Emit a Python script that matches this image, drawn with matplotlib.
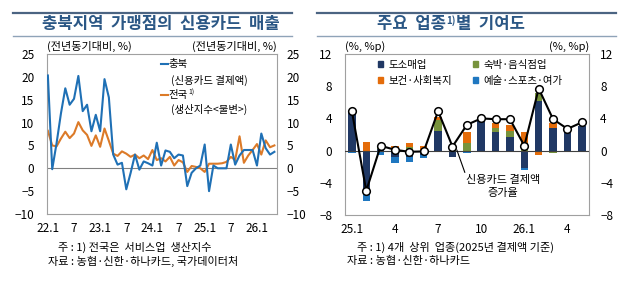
import numpy as np
import matplotlib.pyplot as plt
from matplotlib.lines import Line2D
from matplotlib.patches import Patch

plt.rcParams['font.family'] = ['Noto Sans CJK KR', 'DejaVu Sans']

# ---------------- data ----------------
# left panel: monthly, 22.1 ~ 26.5 (y/y, %)
chungbuk = [20.3, -0.2, 5.5, 12.0, 17.5, 13.9, 15.2, 20.2, 12.5, 13.9, 8.1, 11.7, 8.1,
            19.5, 15.5, 3.0, 0.8, 1.2, -4.6, -1.0, 3.0, -0.3, 1.5, 1.1, 0.6,
            5.6, 0.6, 3.9, 3.6, 2.2, 3.0, 2.8, -3.9, -1.0, 0.0, 0.6, 5.2,
            -5.0, 0.6, 0.0, 0.0, 0.0, 5.2, 0.8, 2.8, 4.0, 4.0, 4.0, 0.6,
            7.6, 4.4, 3.0, 3.6]
national = [8.2, 5.0, 4.8, 6.5, 8.0, 6.6, 7.6, 10.1, 8.3, 7.3, 4.9, 7.2, 4.7,
            8.7, 6.0, 3.2, 2.7, 3.7, 3.2, 2.5, 3.0, 2.2, 2.8, 2.0, 4.0,
            1.8, 2.2, 1.5, 2.5, 0.6, 1.8, 1.3, -0.8, 0.5, 0.3, 0.0, -0.8,
            1.0, 1.0, 1.0, 1.1, 1.4, 2.5, 1.8, 7.0, 1.2, 2.8, 4.0, 5.3,
            3.0, 6.1, 4.6, 5.0]
left_ticks = [0, 6, 12, 18, 24, 30, 36, 42, 48]
left_ticklabels = ['22.1', '7', '23.1', '7', '24.1', '7', '25.1', '7', '26.1']

# right panel: monthly, 25.1 ~ 26.5 (%, %p)
retail = [4.8, -5.4, 0.2, -0.8, -0.8, -0.5, 2.4, -0.8, 0.0, 3.7, 2.3, 1.7, -2.1, 6.2, 2.8, 2.6, 3.0]
food = [0.0, 0.0, 0.2, 0.1, 0.4, 0.05, 1.4, 0.1, 0.9, 0.1, 0.5, 0.7, 0.9, 0.9, -0.3, 0.0, 0.0]
health = [0.1, 1.1, 0.2, 0.5, 0.6, 0.5, 0.4, 0.6, 1.4, 0.0, 0.6, 0.8, 1.4, -0.6, 0.6, 0.0, 0.0]
arts = [-0.3, -0.8, -0.6, -0.7, -0.6, -0.4, -0.1, 0.0, -0.3, -0.2, 0.0, 0.0, -0.3, 0.0, 0.0, 0.0, 0.0]
card_growth = [4.9, -5.0, 0.6, 0.1, -0.15, -0.1, 4.9, 0.5, 3.2, 4.0, 3.9, 3.9, 0.6, 7.7, 3.9, 2.7, 3.5]
right_ticks = [0, 3, 6, 9, 12, 15]
right_ticklabels = ['25.1', '4', '7', '10', '26.1', '4']

series_names = ['도소매업', '숙박·음식점업', '보건·사회복지', '예술·스포츠·여가']
series_colors = ['#203864', '#77933C', '#E46C0A', '#1F77C0']

# ---------------- figure ----------------
W, H = 628, 292
fig = plt.figure(figsize=(W / 100, H / 100), dpi=100)


def fx(px):
    return px / W


def fy(py):
    return 1 - py / H


title_color = '#2B5785'
for x0, x1 in [(13, 292), (317, 616)]:
    fig.add_artist(Line2D([fx(x0), fx(x1)], [fy(12.5), fy(12.5)], color='#4B6482', lw=1.6))
    fig.add_artist(Line2D([fx(x0), fx(x1)], [fy(35.5), fy(35.5)], color='#8FA3B8', lw=1.0))

fig.text(fx(161), fy(24), '충북지역  가맹점의  신용카드  매출', ha='center', va='center',
         fontsize=12, fontweight='bold', color=title_color)

t1 = fig.text(fx(446), fy(24), '주요  업종', ha='right', va='center',
              fontsize=12, fontweight='bold', color=title_color)
t2 = fig.text(0, 0, '1)', fontsize=7, fontweight='bold', color=title_color)
fig.canvas.draw()
r = fig.canvas.get_renderer()
bb = t1.get_window_extent(r)
t2.set_position((bb.x1 / W + 0.001, (bb.y1 - 9) / H))
bb2 = t2.get_window_extent(r)
fig.text(bb2.x1 / W, fy(24), '별  기여도', ha='left', va='center',
         fontsize=12, fontweight='bold', color=title_color)

frame_color = '#A0A0A0'

# ---------------- left panel ----------------
ax1 = fig.add_axes([fx(47), fy(214), 230 / W, 160 / H])
x = np.arange(len(chungbuk))
ax1.axhline(0, color='#808080', lw=0.8, zorder=1)
ax1.plot(x, national, color='#DC7A28', lw=1.5, zorder=2)
ax1.plot(x, chungbuk, color='#1F70B5', lw=1.5, zorder=3)
ax1.set_xlim(-0.2, 52.6)
ax1.set_ylim(-10, 25)
ax1.set_yticks(range(-10, 26, 5))
ax1.set_xticks(left_ticks)
ax1.set_xticklabels(left_ticklabels)
ax1.tick_params(length=0, labelsize=8.5, pad=9)
ax1.tick_params(axis='x', pad=6)
for s in ax1.spines.values():
    s.set_color(frame_color)
    s.set_linewidth(0.8)
ax1r = ax1.twinx()
ax1r.set_ylim(-10, 25)
ax1r.set_yticks(range(-10, 26, 5))
ax1r.tick_params(length=0, labelsize=8.5, pad=7)
for s in ax1r.spines.values():
    s.set_visible(False)

ax1.text(0, 1.015, '(전년동기대비, %)', transform=ax1.transAxes, ha='left', va='bottom', fontsize=8)
ax1.text(1, 1.015, '(전년동기대비, %)', transform=ax1.transAxes, ha='right', va='bottom', fontsize=8)

# legend drawn by hand (two-line labels)
ax1.add_line(Line2D([0.495, 0.528], [0.94, 0.94], transform=ax1.transAxes, color='#1F70B5', lw=1.5))
ax1.text(0.53, 0.94, '충북', transform=ax1.transAxes, va='center', fontsize=7.5)
ax1.text(0.54, 0.835, '(신용카드 결제액)', transform=ax1.transAxes, va='center', fontsize=7.5)
ax1.add_line(Line2D([0.495, 0.528], [0.745, 0.745], transform=ax1.transAxes, color='#DC7A28', lw=1.5))
lt = ax1.text(0.53, 0.745, '전국', transform=ax1.transAxes, va='center', fontsize=7.5)
ax1.annotate('1)', xy=(1, 0.5), xycoords=lt, xytext=(0.3, -1.0), textcoords='offset points',
             va='bottom', ha='left', fontsize=5)
ax1.text(0.54, 0.655, '(생산지수<불변>)', transform=ax1.transAxes, va='center', fontsize=7.5)

fig.text(fx(58), fy(247), '주 : 1) 전국은  서비스업  생산지수', ha='left', va='center', fontsize=8)
fig.text(fx(48), fy(261), '자료 : 농협·신한·하나카드, 국가데이터처', ha='left', va='center', fontsize=8)

# ---------------- right panel ----------------
ax2 = fig.add_axes([fx(344.7), fy(215), 244.3 / W, 161 / H])
xb = np.arange(len(retail))
pos_base = np.zeros(len(retail))
neg_base = np.zeros(len(retail))
for vals, name, col in zip([retail, food, health, arts], series_names, series_colors):
    v = np.array(vals, dtype=float)
    pos = np.where(v > 0, v, 0)
    neg = np.where(v < 0, v, 0)
    ax2.bar(xb, pos, 0.52, bottom=pos_base, color=col, label=name, zorder=2)
    ax2.bar(xb, neg, 0.52, bottom=neg_base, color=col, zorder=2)
    pos_base += pos
    neg_base += neg
ax2.axhline(0, color='#404040', lw=0.8, zorder=3)
ax2.plot(xb, card_growth, color='black', lw=1.5, marker='o', markersize=5.5,
         markerfacecolor='white', markeredgecolor='black', markeredgewidth=1.1, zorder=4)
ax2.set_xlim(-0.5, 16.5)
ax2.set_ylim(-8, 12)
ax2.set_yticks(range(-8, 13, 4))
ax2.set_xticks(right_ticks)
ax2.set_xticklabels(right_ticklabels)
ax2.tick_params(length=0, labelsize=8.5, pad=9)
ax2.tick_params(axis='x', pad=6)
for s in ax2.spines.values():
    s.set_color(frame_color)
    s.set_linewidth(0.8)
ax2r = ax2.twinx()
ax2r.set_ylim(-8, 12)
ax2r.set_yticks(range(-8, 13, 4))
ax2r.tick_params(length=0, labelsize=8.5, pad=8)
for s in ax2r.spines.values():
    s.set_visible(False)

ax2.text(0, 1.015, '(%, %p)', transform=ax2.transAxes, ha='left', va='bottom', fontsize=8)
ax2.text(1, 1.015, '(%, %p)', transform=ax2.transAxes, ha='right', va='bottom', fontsize=8)

handles = [Patch(color=c) for c in series_colors]
order = [0, 2, 1, 3]
ax2.legend([handles[i] for i in order], [series_names[i] for i in order], ncol=2,
           loc='upper left', bbox_to_anchor=(0.12, 0.99), frameon=False, fontsize=7.5,
           handlelength=0.5, handleheight=0.5, handletextpad=0.5, columnspacing=2.0,
           labelspacing=0.55, borderaxespad=0)

ax2.annotate('신용카드 결제액\n증가율', xy=(7.3, 0.1), xytext=(10.5, -4.5),
             ha='center', va='center', fontsize=8, linespacing=1.4,
             arrowprops=dict(arrowstyle='-', color='black', lw=0.8,
                             shrinkA=0, shrinkB=0, relpos=(0.03, 0.75)))

fig.text(fx(357), fy(247), '주 : 1) 4개  상위  업종(2025년 결제액 기준)', ha='left', va='center', fontsize=8)
fig.text(fx(347), fy(261), '자료 : 농협·신한·하나카드', ha='left', va='center', fontsize=8)

fig.savefig('out.png', dpi=100)
